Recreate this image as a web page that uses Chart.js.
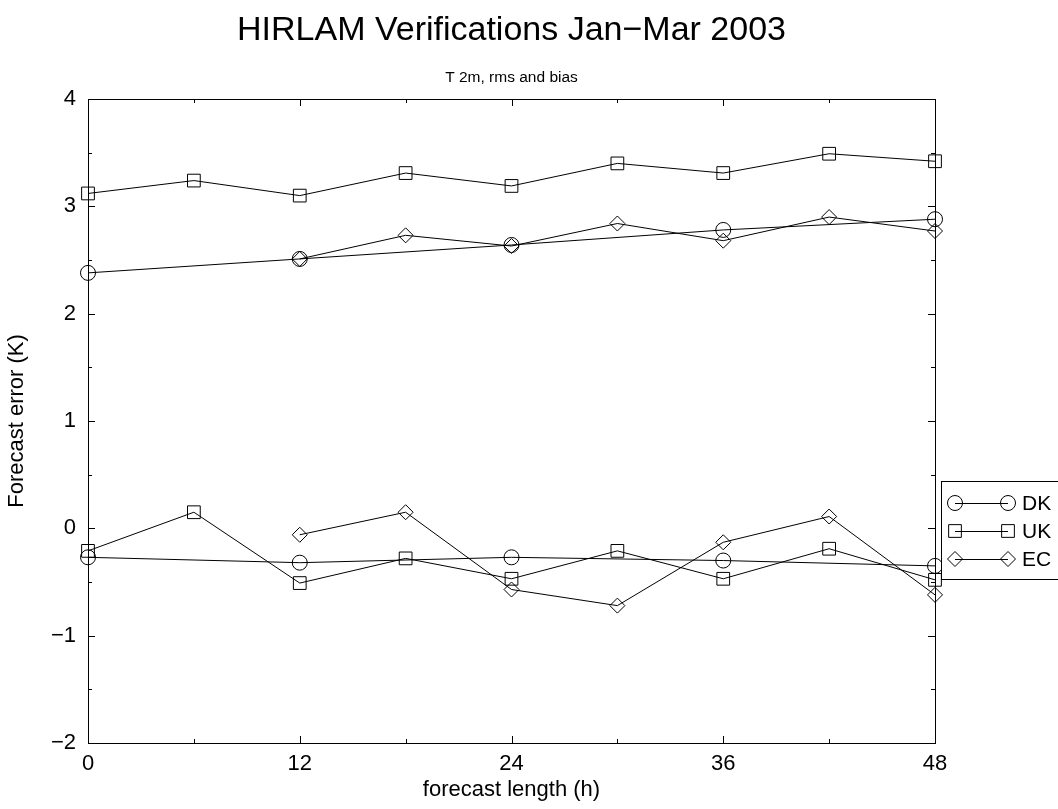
<!DOCTYPE html>
<html>
<head>
<meta charset="utf-8">
<title>HIRLAM Verifications Jan–Mar 2003</title>
<script src="https://cdn.jsdelivr.net/npm/chart.js@4.4.1/dist/chart.umd.min.js"></script>
<style>
  html, body { margin: 0; padding: 0; background: #fff; }
  #wrap { width: 1058px; height: 809px; position: relative; }
</style>
</head>
<body>
<div id="wrap"><canvas id="chart"></canvas></div>
<script>
/* ── Datos ── */
const hoursDK = [0, 12, 24, 36, 48];
const hoursUK = [0, 6, 12, 18, 24, 30, 36, 42, 48];
const hoursEC = [12, 18, 24, 30, 36, 42, 48];

const rmsDK  = [2.38, 2.51, 2.64, 2.78, 2.88];
const biasDK = [-0.27, -0.32, -0.27, -0.30, -0.35];

const rmsUK  = [3.12, 3.24, 3.10, 3.31, 3.19, 3.40, 3.31, 3.49, 3.42];
const biasUK = [-0.21, 0.15, -0.51, -0.28, -0.47, -0.21, -0.47, -0.19, -0.48];

const rmsEC  = [2.51, 2.73, 2.63, 2.84, 2.68, 2.90, 2.77];
const biasEC = [-0.06, 0.15, -0.57, -0.72, -0.13, 0.11, -0.62];

const xTicks = [0, 12, 24, 36, 48];
const yTicks = [-2, -1, 0, 1, 2, 3, 4];

const seriesNames = ['DK', 'UK', 'EC'];
const seriesStyles = { DK: 'circle', UK: 'rect', EC: 'rectRot' };
const seriesRadius = { DK: 7.5, UK: 9, EC: 7.5 };

const FONT = "'Liberation Sans', Arial, Helvetica, sans-serif";

const pts = (xs, ys) => xs.map((x, i) => ({ x, y: ys[i] }));

function mkSet(name, xs, ys, kind) {
  return {
    label: name + ' ' + kind,
    data: pts(xs, ys),
    borderColor: '#000',
    borderWidth: 1,
    backgroundColor: 'rgba(0,0,0,0)',
    pointStyle: seriesStyles[name],
    pointRadius: seriesRadius[name],
    pointBorderColor: '#000',
    pointBorderWidth: 1,
    pointBackgroundColor: 'rgba(0,0,0,0)',
    tension: 0,
    fill: false,
    clip: false,
  };
}

const datasets = [
  mkSet('DK', hoursDK, rmsDK, 'rms'),
  mkSet('DK', hoursDK, biasDK, 'bias'),
  mkSet('UK', hoursUK, rmsUK, 'rms'),
  mkSet('UK', hoursUK, biasUK, 'bias'),
  mkSet('EC', hoursEC, rmsEC, 'rms'),
  mkSet('EC', hoursEC, biasEC, 'bias'),
];

const minus = v => String(v).replace('-', '\u2212');

/* ── Marco, marcas interiores, títulos y leyenda ── */
const framePlugin = {
  id: 'frame',
  afterDatasetsDraw(chart) {
    const { ctx, chartArea: a, scales } = chart;
    ctx.save();
    ctx.strokeStyle = '#000';
    ctx.lineWidth = 1;
    ctx.strokeRect(a.left + 0.5, a.top + 0.5, a.right - a.left, a.bottom - a.top);

    ctx.beginPath();
    scales.x.ticks.forEach(t => {
      const px = Math.round(scales.x.getPixelForValue(t.value)) + 0.5;
      const len = xTicks.includes(t.value) ? 7 : 4;
      ctx.moveTo(px, a.bottom); ctx.lineTo(px, a.bottom - len);
      ctx.moveTo(px, a.top);    ctx.lineTo(px, a.top + len);
    });
    scales.y.ticks.forEach(t => {
      const py = Math.round(scales.y.getPixelForValue(t.value)) + 0.5;
      const len = yTicks.includes(t.value) ? 7 : 4;
      ctx.moveTo(a.left, py);  ctx.lineTo(a.left + len, py);
      ctx.moveTo(a.right, py); ctx.lineTo(a.right - len, py);
    });
    ctx.stroke();

    // títulos centrados sobre el área del gráfico
    const cx = (a.left + a.right) / 2;
    ctx.fillStyle = '#000';
    ctx.textAlign = 'center';
    ctx.textBaseline = 'alphabetic';
    ctx.font = `34px ${FONT}`;
    ctx.fillText('HIRLAM Verifications Jan\u2212Mar 2003', cx, 40);
    ctx.font = `15.5px ${FONT}`;
    ctx.fillText('T 2m, rms and bias', cx, 82);

    // leyenda
    const lx = 941.5, ly = 481.5;
    ctx.fillStyle = '#fff';
    ctx.fillRect(lx, ly, 130, 98);
    ctx.strokeRect(lx, ly, 130, 98);
    const rows = [503, 531, 559];
    ctx.font = `21px ${FONT}`;
    ctx.textAlign = 'left';
    ctx.textBaseline = 'middle';
    seriesNames.forEach((name, i) => {
      const y = rows[i];
      ctx.beginPath();
      ctx.moveTo(955, y + 0.5); ctx.lineTo(1008, y + 0.5);
      ctx.stroke();
      const opts = { pointStyle: seriesStyles[name], radius: seriesRadius[name], borderWidth: 1, rotation: 0 };
      [955, 1008].forEach(x => {
        ctx.beginPath();
        ctx.fillStyle = 'rgba(0,0,0,0)';
        Chart.helpers.drawPoint(ctx, opts, x, y);
      });
      ctx.fillStyle = '#000';
      ctx.fillText(name, 1022, y + 1);
    });
    ctx.restore();
  },
};

Chart.defaults.font.family = FONT;
Chart.defaults.color = '#000';

new Chart(document.getElementById('chart'), {
  type: 'line',
  data: { datasets },
  options: {
    responsive: true,
    maintainAspectRatio: false,
    animation: false,
    events: [],
    layout: { padding: { top: 99, right: 123, bottom: 0, left: 0 } },
    plugins: {
      legend: { display: false },
      title: { display: false },
      tooltip: { enabled: false },
    },
    scales: {
      x: {
        type: 'linear',
        min: 0, max: 48,
        grid: { display: false, drawTicks: false },
        border: { display: false },
        ticks: {
          stepSize: 6,
          padding: 8,
          autoSkip: false,
          maxRotation: 0,
          font: { size: 22 },
          color: '#000',
          callback: v => (xTicks.includes(v) ? String(v) : ''),
        },
        title: {
          display: true,
          text: 'forecast length (h)',
          font: { size: 22 },
          color: '#000',
          padding: { top: 0, bottom: 6 },
        },
        afterFit: s => { s.height = 66; },
      },
      y: {
        type: 'linear',
        min: -2, max: 4,
        grid: { display: false, drawTicks: false },
        border: { display: false },
        ticks: {
          stepSize: 0.5,
          padding: 12,
          autoSkip: false,
          font: { size: 22 },
          color: '#000',
          callback: v => (yTicks.includes(v) ? minus(v) : ''),
        },
        title: {
          display: true,
          text: 'Forecast error (K)',
          font: { size: 22 },
          color: '#000',
          padding: { top: 4, bottom: 0 },
        },
        afterFit: s => { s.width = 88; },
      },
    },
  },
  plugins: [framePlugin],
});
</script>
</body>
</html>
